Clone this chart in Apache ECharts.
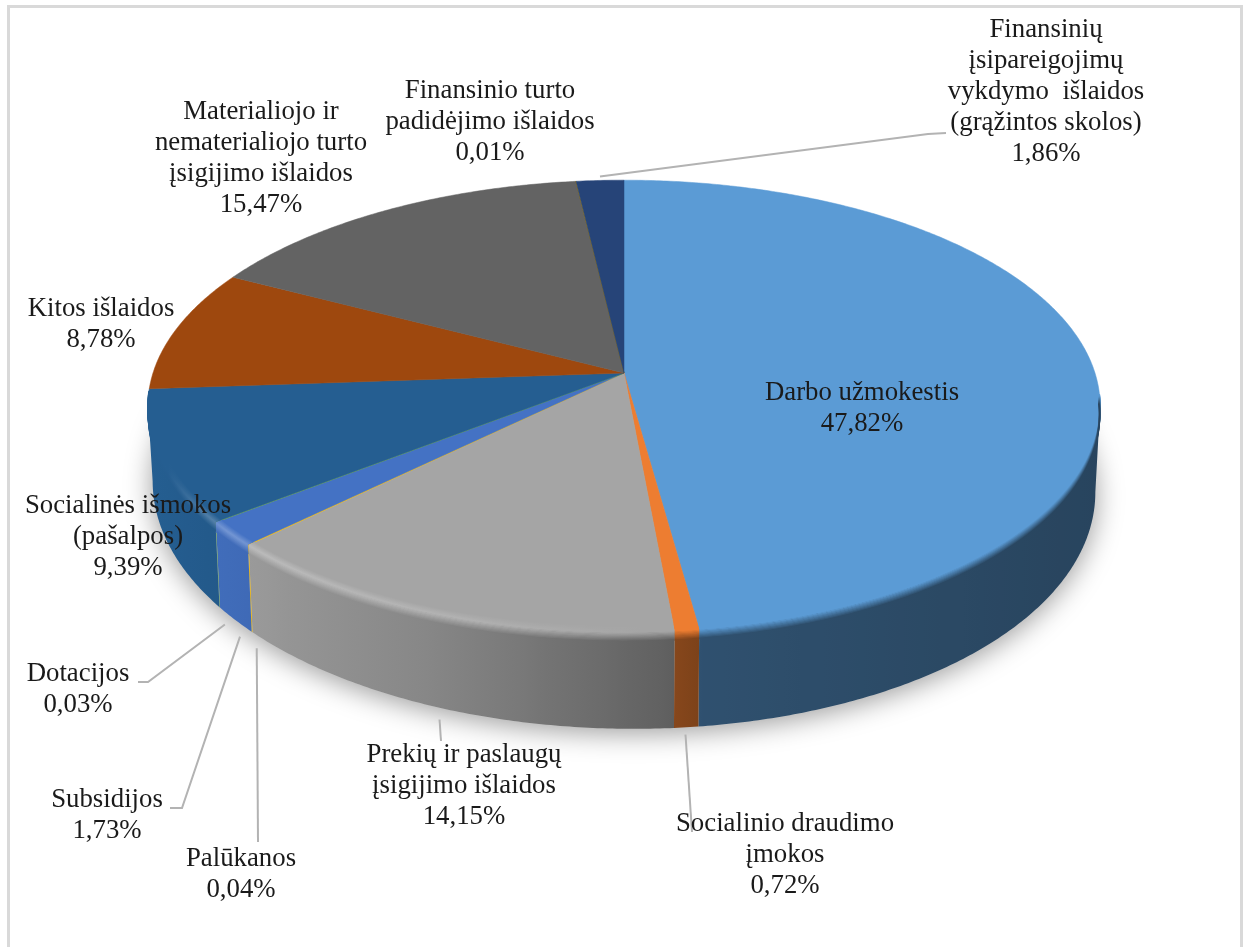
<!DOCTYPE html>
<html>
<head>
<meta charset="utf-8">
<title>Islaidu struktura</title>
<style>
html, body { margin: 0; padding: 0; background: #fff; }
#chart { width: 1245px; height: 947px; }
</style>
<script src="https://cdn.jsdelivr.net/npm/echarts@6/dist/echarts.min.js"></script>
</head>
<body>
<div id="chart"></div>
<script>
/* data, clockwise from 12 o'clock */
var categories = [
    'Darbo užmokestis',
    'Socialinio draudimo\nįmokos',
    'Prekių ir paslaugų\nįsigijimo išlaidos',
    'Palūkanos',
    'Subsidijos',
    'Dotacijos',
    'Socialinės išmokos\n(pašalpos)',
    'Kitos išlaidos',
    'Materialiojo ir\nnematerialiojo turto\nįsigijimo išlaidos',
    'Finansinio turto\npadidėjimo išlaidos',
    'Finansinių\nįsipareigojimų\nvykdymo  išlaidos\n(grąžintos skolos)'
];
var shares = [47.82, 0.72, 14.15, 0.04, 1.73, 0.03, 9.39, 8.78, 15.47, 0.01, 1.86];
var colors = ['#5b9bd5', '#ed7d31', '#a5a5a5', '#ffc000', '#4472c4', '#70ad47', '#255e91', '#9e480e', '#636363', '#997300', '#264478'];

/* label centres, same order as categories */
var labelCenters = [[862, 408], [785, 855], [464, 786], [241, 874], [107, 815], [78, 689], [128, 537], [101, 324], [261, 158], [490, 122], [1046, 92]];
/* where the leader line ends, null = no leader */
var leaderEnds = [null, [692, 832], [441, 741], [258, 842], [[182, 808], [170, 808]], [[148, 682], [138, 682]], null, null, null, null, [[928, 134], [946, 133]]];

/* pie projection */
var cx = 624, cy = 373, rx = 471, ry = 221, persp = 0.146;
var bottomScale = 0.99;
/* the wall runs between the two points where the rim is widest */
var wallFrom = Math.acos(-persp), wallTo = Math.PI * 2 - wallFrom;
var bevelFrom = Math.PI * 0.53, bevelTo = Math.PI * 1.475;
var shadeStops = [[148, 1], [250, 0.93], [450, 0.8], [670, 0.58], [700, 0.52], [1100, 0.44]];

var starts = [];
var total = 0;
shares.forEach(function (v) {
    starts.push(total);
    total += v;
});

function rim(theta) {
    var u = Math.sin(theta), v = Math.cos(theta);
    var w = 1 + persp * v;
    return [cx + rx * u / w, cy - ry * v / w];
}
function depth(theta) {
    return 77.9 - 19.1 * Math.cos(theta) + 5.5 * Math.sin(theta);
}
function lower(theta) {
    var p = rim(theta);
    return [cx + (p[0] - cx) * bottomScale, p[1] + depth(theta)];
}
function angle(pct) {
    return pct / total * Math.PI * 2;
}
function arcAngles(a0, a1) {
    var n = Math.max(2, Math.ceil((a1 - a0) * 180 / Math.PI * 2));
    var out = [];
    for (var i = 0; i <= n; i++) {
        out.push(a0 + (a1 - a0) * i / n);
    }
    return out;
}

function hexRgb(h) {
    return [parseInt(h.substr(1, 2), 16), parseInt(h.substr(3, 2), 16), parseInt(h.substr(5, 2), 16)];
}
function mix(a, b, t) {
    return [a[0] + (b[0] - a[0]) * t, a[1] + (b[1] - a[1]) * t, a[2] + (b[2] - a[2]) * t];
}
function css(c) {
    return 'rgb(' + Math.min(255, Math.round(c[0])) + ',' + Math.min(255, Math.round(c[1])) + ',' + Math.min(255, Math.round(c[2])) + ')';
}
function shadeAt(x) {
    for (var i = 1; i < shadeStops.length; i++) {
        if (x <= shadeStops[i][0]) {
            var a = shadeStops[i - 1], b = shadeStops[i];
            return a[1] + (b[1] - a[1]) * (x - a[0]) / (b[0] - a[0]);
        }
    }
    return shadeStops[shadeStops.length - 1][1];
}
/* colour of the wall at x, t = 1 is the plain wall, t < 1 is the bevel round the rim */
function wallColor(hex, x, t) {
    var top = hexRgb(hex);
    var f = shadeAt(x);
    var side = mix([0, 0, 0], top, f);
    var glow = Math.max(0, (f - 0.6) / 0.4) * 0.3 * Math.min(1, Math.max(0, (x - 170) / 50));
    var light = mix(top, [255, 255, 255], glow);
    if (t < 0.45) {
        return css(mix(top, light, t / 0.45));
    }
    return css(mix(light, side, (t - 0.45) / 0.55));
}
function wallGradient(hex, t) {
    var stops = [];
    for (var i = 0; i <= 48; i++) {
        stops.push({ offset: i / 48, color: wallColor(hex, 148 + 952 * i / 48, t) });
    }
    return new echarts.graphic.LinearGradient(148, 0, 1100, 0, stops, true);
}

function renderShadow() {
    var pts = arcAngles(0, Math.PI * 2).map(lower);
    return {
        type: 'polygon',
        shape: { points: pts },
        style: {
            fill: '#ccc',
            shadowBlur: 28,
            shadowColor: 'rgba(0,0,0,0.4)',
            shadowOffsetY: 4
        }
    };
}

function renderWall(params) {
    var i = params.dataIndex;
    var a0 = Math.max(angle(starts[i]), wallFrom);
    var a1 = Math.min(angle(starts[i] + shares[i]), wallTo);
    if (a1 <= a0) {
        return null;
    }
    var angles = arcAngles(a0, a1);
    var pts = angles.map(rim).concat(angles.slice().reverse().map(lower));
    return {
        type: 'polygon',
        shape: { points: pts },
        style: { fill: wallGradient(colors[i], 1) }
    };
}

function renderTop(params) {
    var i = params.dataIndex;
    var angles = arcAngles(angle(starts[i]), angle(starts[i] + shares[i]));
    return {
        type: 'polygon',
        shape: { points: [[cx, cy]].concat(angles.map(rim)) },
        style: { fill: colors[i], stroke: colors[i], lineWidth: 0.5 }
    };
}

/* soft band across the rim, top face into wall; hairline slices get none */
function bevelPoint(a, off) {
    var p = rim(a);
    if (off < 0) {
        var dist = Math.sqrt((p[0] - cx) * (p[0] - cx) + (p[1] - cy) * (p[1] - cy));
        var k = 1 + off / dist;
        return [cx + (p[0] - cx) * k, cy + (p[1] - cy) * k];
    }
    return [cx + (p[0] - cx) * (1 - off * 0.00012), p[1] + off];
}
function renderBevel(params) {
    var i = params.dataIndex;
    var a0 = Math.max(angle(starts[i]), bevelFrom);
    var a1 = Math.min(angle(starts[i] + shares[i]), bevelTo);
    if (a1 <= a0 || shares[i] < 0.1) {
        return null;
    }
    var angles = arcAngles(a0, a1);
    var rows = 15;
    var children = [];
    for (var j = 0; j < rows; j++) {
        (function (off) {
            children.push({
                type: 'polyline',
                shape: {
                    points: angles.map(function (a) {
                        return bevelPoint(a, off);
                    })
                },
                style: { stroke: wallGradient(colors[i], j / (rows - 1)), lineWidth: 1.6, fill: null }
            });
        })(-6 + j * 1.1);
    }
    return { type: 'group', children: children };
}

function renderLeader(params) {
    var i = params.dataIndex;
    var end = leaderEnds[i];
    if (!end) {
        return null;
    }
    var mid = angle(starts[i] + shares[i] / 2);
    var u = Math.sin(mid);
    var from;
    if (Math.cos(mid) > 0) {
        from = rim(mid);
        from = [from[0], from[1] - 4];
    } else {
        from = lower(mid);
        from = [from[0] - u * 6.5, from[1] + 8.5 - u * 11];
    }
    var pts = typeof end[0] === 'number' ? [from, end] : [from].concat(end);
    return {
        type: 'polyline',
        shape: { points: pts },
        style: { stroke: '#b3b3b3', lineWidth: 2, fill: null }
    };
}

function renderLabel(params) {
    var i = params.dataIndex;
    return {
        type: 'text',
        style: {
            x: labelCenters[i][0],
            y: labelCenters[i][1],
            text: categories[i] + '\n' + shares[i].toFixed(2).replace('.', ',') + '%',
            font: '26.8px "Liberation Serif"',
            lineHeight: 31,
            fill: '#1a1a1a',
            align: 'center',
            verticalAlign: 'middle'
        }
    };
}

function layer(render, data) {
    return {
        type: 'custom',
        coordinateSystem: 'none',
        renderItem: render,
        data: data,
        silent: true,
        clip: false
    };
}

var chart = echarts.init(document.getElementById('chart'));
chart.setOption({
    animation: false,
    backgroundColor: '#fff',
    graphic: [{
        type: 'rect',
        z: -1,
        shape: { x: 8.5, y: 6.5, width: 1233, height: 980 },
        style: { fill: null, stroke: '#d9d9d9', lineWidth: 3 }
    }],
    series: [
        layer(renderShadow, [1]),
        layer(renderWall, shares),
        layer(renderTop, shares),
        layer(renderBevel, shares),
        layer(renderLeader, shares),
        layer(renderLabel, shares)
    ]
});
</script>
</body>
</html>
